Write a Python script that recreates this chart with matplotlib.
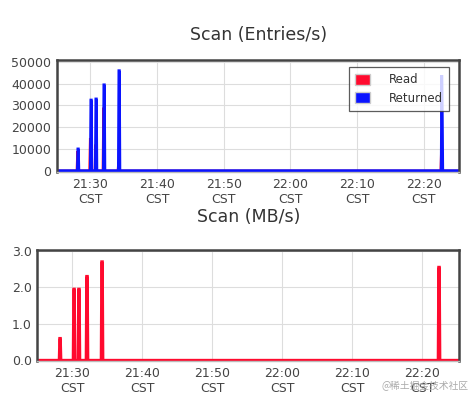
import matplotlib
matplotlib.use('Agg')
import matplotlib.pyplot as plt
from matplotlib.patches import Patch

# Time axis: minutes after 21:25 CST
tick_pos = [5, 15, 25, 35, 45, 55]
tick_labels = ['21:30\nCST', '21:40\nCST', '21:50\nCST', '22:00\nCST', '22:10\nCST', '22:20\nCST']

# Scan (Entries/s) - Returned
ret_t = [0, 3.05, 3.13, 3.2, 3.28, 5.0, 5.08, 5.15, 5.23, 5.75, 5.83, 5.9, 5.98,
         6.95, 7.03, 7.1, 7.18, 9.2, 9.28, 9.35, 9.43, 57.6, 57.68, 57.75, 57.83, 60.5]
ret_v = [0, 0, 10000, 10000, 0, 0, 32500, 32500, 0, 0, 33000, 33000, 0,
         0, 39500, 39500, 0, 0, 46000, 46000, 0, 0, 44000, 30000, 0, 0]

# Scan (Entries/s) - Read
read_t = [0, 2.95, 3.05, 3.15, 4.85, 4.95, 5.05, 5.65, 5.75, 5.85, 6.85, 6.95, 7.05,
          9.1, 9.2, 9.3, 57.5, 57.6, 57.7, 60.5]
read_v = [0, 0, 9000, 0, 0, 15000, 0, 0, 12000, 0, 0, 29000, 0,
          0, 4000, 0, 0, 10000, 0, 0]

# Scan (MB/s) - Read
mb_t = [0, 3.15, 3.23, 3.3, 3.38, 5.15, 5.23, 5.3, 5.38, 5.85, 5.93, 6.0, 6.08,
        7.0, 7.08, 7.15, 7.23, 9.15, 9.23, 9.3, 9.38, 57.3, 57.38, 57.45, 57.53, 60.5]
mb_v = [0, 0, 0.6, 0.6, 0, 0, 1.95, 1.95, 0, 0, 1.95, 1.95, 0,
        0, 2.3, 2.3, 0, 0, 2.7, 2.7, 0, 0, 2.55, 2.55, 0, 0]

red = '#ff0a2e'
blue = '#0a14ff'
frame = '#444444'
gridc = '#dddddd'
textc = '#444444'

fig = plt.figure(figsize=(4.71, 3.99), dpi=100)
ax1 = fig.add_axes([0.121, 0.569, 0.854, 0.281])
ax2 = fig.add_axes([0.079, 0.095, 0.896, 0.278])


def style(ax):
    ax.set_xlim(0, 60.3)
    ax.set_xticks(tick_pos)
    ax.set_xticklabels(tick_labels)
    ax.grid(True, color=gridc, linewidth=0.8)
    ax.set_axisbelow(True)
    for s in ['left', 'top', 'right']:
        ax.spines[s].set_color(frame)
        ax.spines[s].set_linewidth(1.8)
    ax.spines['bottom'].set_color('#bbbbbb')
    ax.spines['bottom'].set_linewidth(1.0)
    ax.tick_params(length=0, labelsize=9, labelcolor=textc, pad=4)


ax1.plot(read_t, read_v, color=red, linewidth=1.5, solid_joinstyle='miter')
ax1.plot(ret_t, ret_v, color=blue, linewidth=2.0, solid_joinstyle='miter')
ax1.set_ylim(-600, 51000)
ax1.set_yticks([0, 10000, 20000, 30000, 40000, 50000])
style(ax1)
ax1.set_title('Scan (Entries/s)', fontsize=12.5, color='#333333', pad=14)
leg = ax1.legend(handles=[Patch(facecolor=red, edgecolor='#cccccc', label='Read'),
                          Patch(facecolor=blue, edgecolor='#cccccc', label='Returned')],
                 loc='upper right', fontsize=8.5, frameon=True, fancybox=False,
                 handlelength=1.3, handleheight=1.1, borderpad=0.5, labelspacing=0.45,
                 handletextpad=1.6, bbox_to_anchor=(0.99, 0.985))
leg.get_frame().set_edgecolor('#333333')
leg.get_frame().set_linewidth(0.9)
for t in leg.get_texts():
    t.set_color('#333333')

ax2.plot(mb_t, mb_v, color=red, linewidth=2.2, solid_joinstyle='miter')
ax2.set_ylim(-0.02, 3.02)
ax2.set_yticks([0, 1, 2, 3])
ax2.set_yticklabels(['0.0', '1.0', '2.0', '3.0'])
style(ax2)
ax2.set_title('Scan (MB/s)', fontsize=12.5, color='#333333', pad=20)

fig.text(0.995, 0.02, '@稀土掘金技术社区', fontsize=7, color='#aaaaaa', ha='right', va='bottom',
         family=['Noto Sans CJK SC', 'DejaVu Sans'])

fig.savefig('out.png', dpi=100)
plt.close(fig)
